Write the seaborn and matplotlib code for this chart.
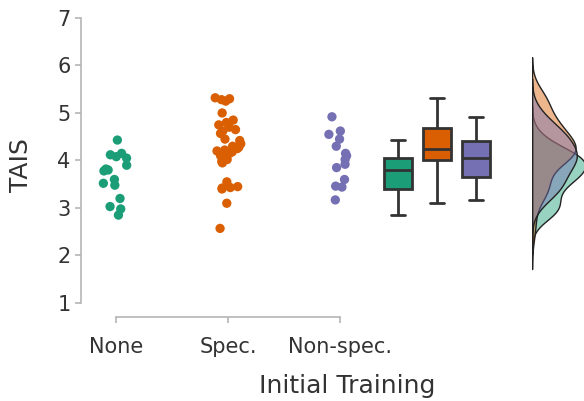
import matplotlib
matplotlib.use("Agg")
import matplotlib.pyplot as plt
import numpy as np, pandas as pd
import seaborn as sns

# TAIS scores per initial-training group
none_vals = [4.43, 4.15, 4.12, 4.08, 4.05, 3.9, 3.82, 3.8, 3.78, 3.6, 3.52, 3.48, 3.2, 3.03, 2.98, 2.85]
spec_vals = [5.32, 5.3, 5.28, 5.25, 5.0, 4.85, 4.8, 4.75, 4.7, 4.65, 4.62, 4.57, 4.45, 4.42,
             4.35, 4.3, 4.28, 4.25, 4.22, 4.2, 4.18, 4.15, 4.12, 4.1, 4.05, 4.02, 3.98, 3.95,
             3.55, 3.45, 3.43, 3.42, 3.4, 3.1, 2.57]
nonspec_vals = [4.92, 4.62, 4.55, 4.45, 4.3, 4.15, 4.1, 4.02, 3.92, 3.85, 3.6, 3.46, 3.44, 3.17]
groups = ["None", "Spec.", "Non-spec."]
palette = dict(zip(groups, sns.color_palette("Dark2", 3)))

df = pd.DataFrame({
    "group": ["None"]*len(none_vals) + ["Spec."]*len(spec_vals) + ["Non-spec."]*len(nonspec_vals),
    "TAIS": none_vals + spec_vals + nonspec_vals,
})

sns.set_theme(style="ticks")
plt.rcParams["font.family"] = ["DejaVu Sans"]
grey = "#b5b5b5"
txt = "#333333"

fig = plt.figure(figsize=(5.84, 4.01), dpi=100)
ylims = (0.7, 7.1)
ax = fig.add_axes([0.1387, 0.2089, 0.4818, 0.7581])
ax_box = fig.add_axes([0.6481, 0.2089, 0.2003, 0.7581])
ax_kde = fig.add_axes([0.911, 0.2089, 0.089, 0.7581])

np.random.seed(3)
sns.stripplot(data=df, x="group", y="TAIS", hue="group", order=groups, palette=palette,
              size=6.7, jitter=0.12, legend=False, ax=ax)
ax.set_xlim(-0.3125, 2.2)
ax.set_ylim(*ylims)
ax.set_yticks(range(1, 8))
for s in ["top", "right"]:
    ax.spines[s].set_visible(False)
ax.spines["left"].set_bounds(1, 7)
ax.spines["bottom"].set_bounds(0, 2)
for s in ["left", "bottom"]:
    ax.spines[s].set_color(grey)
    ax.spines[s].set_linewidth(1.2)
ax.tick_params(colors=grey, labelcolor=txt, labelsize=15, length=4, width=1.2)
ax.tick_params(axis="x", pad=10)
ax.set_ylabel("TAIS", fontsize=18, color=txt)
ax.set_xlabel("Initial Training", fontsize=18, color=txt)
ax.yaxis.set_label_coords(-0.17, 0.5)
ax.xaxis.set_label_coords(0.945, -0.188)

sns.boxplot(data=df, x="group", y="TAIS", hue="group", order=groups, palette=palette,
            width=0.72, linewidth=2, linecolor="#333333", showfliers=False,
            saturation=1, legend=False, ax=ax_box)
ax_box.set_xlim(-0.5, 2.5)
ax_box.set_ylim(*ylims)
ax_box.axis("off")

# reversed hue order so Non-spec. ends up drawn on top
sns.kdeplot(data=df, y="TAIS", hue="group", hue_order=groups[::-1], palette=palette,
            fill=True, common_norm=False, alpha=0.45, edgecolor="#222222",
            linewidth=1, bw_adjust=0.9, legend=False, ax=ax_kde)
ax_kde.set_ylim(*ylims)
xmax = ax_kde.get_xlim()[1]
ax_kde.set_xlim(0, xmax * 0.93)
ax_kde.axis("off")

fig.savefig("out.png", dpi=100)
